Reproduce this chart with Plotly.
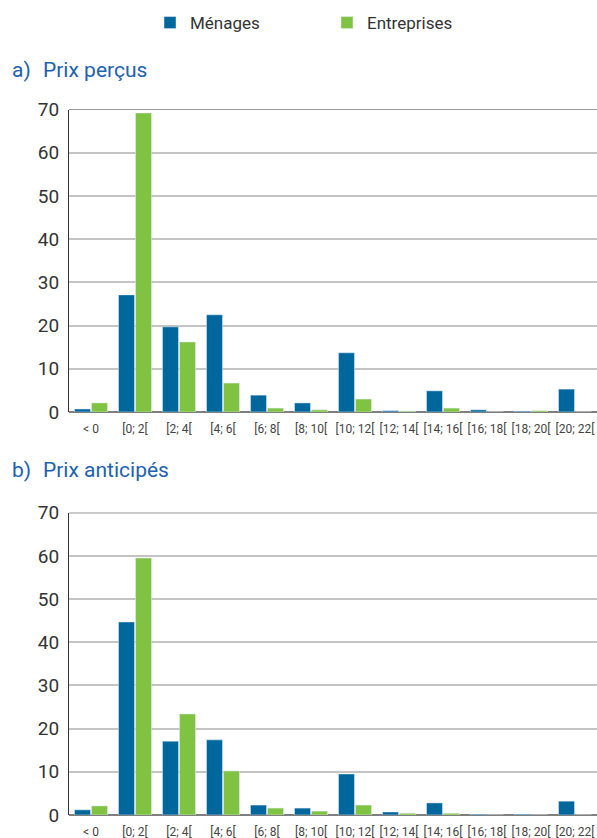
import plotly.graph_objects as go

# Inflation brackets (%)
categories = ["< 0", "[0; 2[", "[2; 4[", "[4; 6[", "[6; 8[", "[8; 10[",
              "[10; 12[", "[12; 14[", "[14; 16[", "[16; 18[", "[18; 20[", "[20; 22["]

# a) Perceived prices - share of respondents (%)
percus_menages = [0.7, 27.1, 19.7, 22.5, 3.9, 2.1, 13.7, 0.3, 4.9, 0.5, 0.2, 5.3]
percus_entreprises = [2.1, 69.2, 16.2, 6.7, 0.9, 0.5, 3.0, 0.2, 0.9, 0.0, 0.3, 0.0]

# b) Expected prices - share of respondents (%)
anticipes_menages = [1.2, 44.7, 17.1, 17.4, 2.3, 1.6, 9.5, 0.7, 2.8, 0.2, 0.2, 3.2]
anticipes_entreprises = [2.1, 59.5, 23.4, 10.2, 1.6, 0.9, 2.3, 0.4, 0.4, 0.0, 0.0, 0.0]

y_ticks = [0, 10, 20, 30, 40, 50, 60, 70]

BLUE = "#00679c"
GREEN = "#80c241"
TITLE_BLUE = "#2162ad"
FONT = "Roboto, sans-serif"

W, H = 597, 838

fig = go.Figure()

panels = [
    ("x", "y", percus_menages, percus_entreprises, True),
    ("x2", "y2", anticipes_menages, anticipes_entreprises, False),
]
for xa, ya, men, ent, show in panels:
    fig.add_trace(go.Bar(x=categories, y=men, name="Ménages", marker_color=BLUE,
                         xaxis=xa, yaxis=ya, showlegend=show, legendgroup="m"))
    fig.add_trace(go.Bar(x=categories, y=ent, name="Entreprises", marker_color=GREEN,
                         xaxis=xa, yaxis=ya, showlegend=show, legendgroup="e"))

x_left = 69 / W
top_dom = [1 - 412 / H, 1 - 109.5 / H]
bot_dom = [1 - 815 / H, 1 - 512.7 / H]

xaxis_style = dict(
    domain=[x_left, 1], showgrid=False, showline=False, zeroline=False,
    ticks="", tickangle=0, tickfont=dict(family=FONT, size=12, color="#444"),
    fixedrange=True, automargin=False, ticklabelstandoff=8,
)
yaxis_style = dict(
    range=[0, 70], tickvals=y_ticks, showgrid=True, gridcolor="#c4c4c4", gridwidth=1.5,
    showline=True, linecolor="#333", linewidth=1,
    zeroline=True, zerolinecolor="#7f7f7f", zerolinewidth=2,
    layer="above traces", ticks="", ticklabelstandoff=5, automargin=False,
    tickfont=dict(family=FONT, size=19, color="#333"),
)

fig.update_layout(
    width=W, height=H,
    margin=dict(l=0, r=0, t=0, b=0, autoexpand=False),
    paper_bgcolor="white", plot_bgcolor="white",
    barmode="group", bargap=0.227, bargroupgap=0.06,
    xaxis=dict(**xaxis_style, anchor="y"),
    yaxis=dict(**yaxis_style, domain=top_dom, anchor="x"),
    xaxis2=dict(**xaxis_style, anchor="y2"),
    yaxis2=dict(**yaxis_style, domain=bot_dom, anchor="x2"),
    legend=dict(
        orientation="h", x=150 / W, xanchor="left", y=1 - 23 / H, yanchor="middle",
        entrywidth=132, entrywidthmode="pixels",
        font=dict(family=FONT, size=17, color="#333"),
        bgcolor="rgba(0,0,0,0)", traceorder="normal",
    ),
    showlegend=True,
)

# Top frame line at 70 on each panel
for ya, xa in (("y", "x"), ("y2", "x2")):
    fig.add_shape(type="line", xref=f"{xa} domain", yref=ya, x0=0, x1=1, y0=70, y1=70,
                  line=dict(color="#333", width=1.2))

# Panel titles
for label, text, ypix in (("a)", "Prix perçus", 70), ("b)", "Prix anticipés", 470)):
    fig.add_annotation(x=10 / W, y=1 - ypix / H, xref="paper", yref="paper",
                       text=label, showarrow=False, xanchor="left", yanchor="middle",
                       font=dict(family=FONT, size=21, color=TITLE_BLUE))
    fig.add_annotation(x=41 / W, y=1 - ypix / H, xref="paper", yref="paper",
                       text=text, showarrow=False, xanchor="left", yanchor="middle",
                       font=dict(family=FONT, size=21, color=TITLE_BLUE))

fig.write_html("out.html")
